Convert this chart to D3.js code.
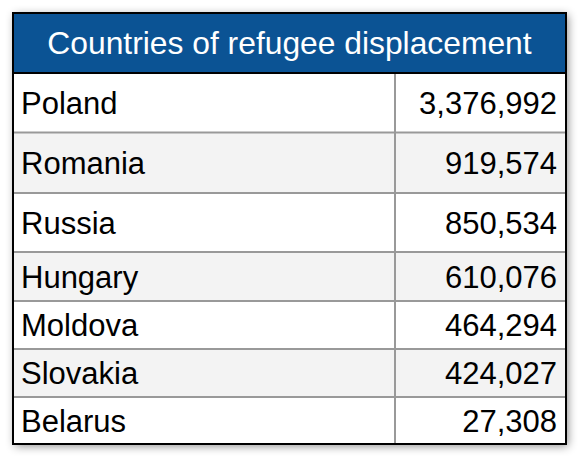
<!DOCTYPE html>
<html>
<head>
<meta charset="utf-8">
<script src="https://cdn.jsdelivr.net/npm/d3@7"></script>
<style>
  html, body { margin: 0; padding: 0; background: #fff; }
  svg { display: block; font-family: "Liberation Sans", Arimo, Arial, sans-serif; }
</style>
</head>
<body>
<div id="chart"></div>
<script>
// Table data
const title = "Countries of refugee displacement";
const countries = ["Poland", "Romania", "Russia", "Hungary", "Moldova", "Slovakia", "Belarus"];
const refugees = [3376992, 919574, 850534, 610076, 464294, 424027, 27308];

// Layout
const width = 580, height = 458;
const box = { x0: 13, y0: 13, x1: 566, y1: 444 };
const headerBottom = 73;
const colSplit = 395;
const rowHeights = [59.5, 60.5, 59, 49, 48, 48, 47];
const fontSize = 31;

const rows = countries.map((c, i) => ({ country: c, value: refugees[i] }));

// row edges from heights
const edges = [headerBottom];
rowHeights.forEach((h) => edges.push(edges[edges.length - 1] + h));

const fmt = d3.format(",");

const svg = d3.select("#chart").append("svg")
  .attr("width", width)
  .attr("height", height);

const defs = svg.append("defs");
const shadow = defs.append("filter")
  .attr("id", "shadow")
  .attr("x", "-10%").attr("y", "-10%")
  .attr("width", "120%").attr("height", "120%");
shadow.append("feDropShadow")
  .attr("dx", 2).attr("dy", 2)
  .attr("stdDeviation", 5)
  .attr("flood-color", "#000")
  .attr("flood-opacity", 0.45);

// table background with shadow
svg.append("rect")
  .attr("x", box.x0).attr("y", box.y0)
  .attr("width", box.x1 - box.x0).attr("height", box.y1 - box.y0)
  .attr("fill", "#fff")
  .attr("filter", "url(#shadow)");

// header
svg.append("rect")
  .attr("x", box.x0).attr("y", box.y0)
  .attr("width", box.x1 - box.x0).attr("height", headerBottom - box.y0)
  .attr("fill", "#0b5394");

svg.append("text")
  .attr("x", (box.x0 + box.x1) / 2)
  .attr("y", (box.y0 + headerBottom) / 2 + fontSize * 0.36)
  .attr("text-anchor", "middle")
  .attr("fill", "#fff")
  .style("font-size", "31.8px")
  .text(title);

// body rows
const row = svg.selectAll("g.row")
  .data(rows)
  .join("g")
  .attr("class", "row");

row.append("rect")
  .attr("x", box.x0)
  .attr("y", (d, i) => edges[i])
  .attr("width", box.x1 - box.x0)
  .attr("height", (d, i) => rowHeights[i])
  .attr("fill", (d, i) => (i % 2 ? "#f3f3f3" : "#fff"));

row.append("text")
  .attr("x", 21)
  .attr("y", (d, i) => (edges[i] + edges[i + 1]) / 2 + fontSize * 0.36)
  .attr("fill", "#000")
  .style("font-size", fontSize + "px")
  .text((d) => d.country);

row.append("text")
  .attr("x", 557)
  .attr("y", (d, i) => (edges[i] + edges[i + 1]) / 2 + fontSize * 0.36)
  .attr("text-anchor", "end")
  .attr("fill", "#000")
  .style("font-size", fontSize + "px")
  .text((d) => fmt(d.value));

// gray row separators
svg.selectAll("line.sep")
  .data(edges.slice(1, -1))
  .join("line")
  .attr("class", "sep")
  .attr("x1", box.x0).attr("x2", box.x1)
  .attr("y1", (d) => d).attr("y2", (d) => d)
  .attr("stroke", "#999")
  .attr("stroke-width", 2);

// column divider
svg.append("line")
  .attr("x1", colSplit).attr("x2", colSplit)
  .attr("y1", headerBottom).attr("y2", box.y1)
  .attr("stroke", "#999")
  .attr("stroke-width", 2);

// header bottom line
svg.append("line")
  .attr("x1", box.x0).attr("x2", box.x1)
  .attr("y1", headerBottom).attr("y2", headerBottom)
  .attr("stroke", "#000")
  .attr("stroke-width", 2);

// outer border
svg.append("rect")
  .attr("x", box.x0).attr("y", box.y0)
  .attr("width", box.x1 - box.x0).attr("height", box.y1 - box.y0)
  .attr("fill", "none")
  .attr("stroke", "#000")
  .attr("stroke-width", 2);
</script>
</body>
</html>
